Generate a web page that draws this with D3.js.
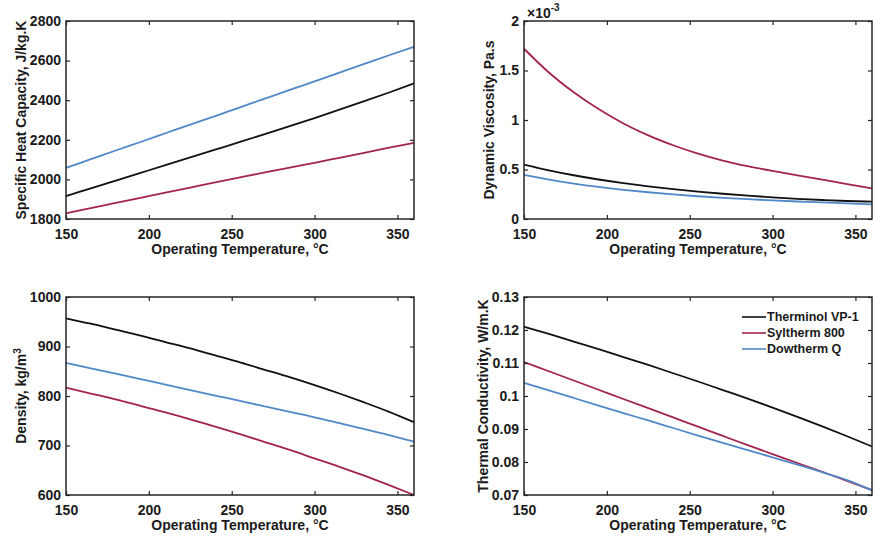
<!DOCTYPE html>
<html>
<head>
<meta charset="utf-8">
<script src="https://cdn.jsdelivr.net/npm/d3@7"></script>
<style>
  html, body { margin: 0; padding: 0; background: #fff; }
  svg { display: block; font-family: "Liberation Sans", Arial, sans-serif; font-weight: bold; }
</style>
</head>
<body>
<svg id="chart" width="873" height="540"></svg>
<script>
// Operating temperature grid, °C
const temps = [150, 165, 180, 195, 210, 225, 240, 255, 270, 285, 300, 315, 330, 345, 360];

// Fluids shown in every panel
const fluids = ["Therminol VP-1", "Syltherm 800", "Dowtherm Q"];
const fluidColors = ["#111111", "#a3234f", "#5088c8"];

// Specific heat capacity, J/kg.K
const cpVP1 = [1916, 1955, 1994, 2033, 2072, 2111, 2150, 2189, 2229, 2269, 2310, 2352, 2395, 2439, 2485];
const cpSyl = [1829, 1855, 1881, 1907, 1933, 1959, 1985, 2010, 2035, 2060, 2084, 2109, 2134, 2160, 2185];
const cpDow = [2058, 2102, 2146, 2189, 2233, 2277, 2320, 2364, 2408, 2452, 2495, 2539, 2583, 2627, 2670];

// Dynamic viscosity, x10^-3 Pa.s
const muVP1 = [0.550, 0.492, 0.442, 0.399, 0.362, 0.330, 0.302, 0.277, 0.255, 0.236, 0.219, 0.204, 0.192, 0.182, 0.175];
const muSyl = [1.720, 1.480, 1.280, 1.110, 0.965, 0.845, 0.745, 0.660, 0.590, 0.533, 0.485, 0.441, 0.397, 0.353, 0.310];
const muDow = [0.445, 0.398, 0.358, 0.324, 0.295, 0.270, 0.249, 0.230, 0.214, 0.200, 0.188, 0.177, 0.167, 0.157, 0.147];

// Density, kg/m3
const rhoVP1 = [957, 946, 934, 922, 909, 896, 882, 868, 853, 838, 822, 805, 787, 768, 747];
const rhoSyl = [817, 805, 793, 780, 767, 753, 738, 723, 707, 691, 674, 657, 639, 620, 600];
const rhoDow = [867, 856, 845, 834, 823, 812, 801, 790, 779, 768, 757, 745, 733, 721, 708];

// Thermal conductivity, W/m.K
const kVP1 = [0.1210, 0.1188, 0.1165, 0.1142, 0.1118, 0.1094, 0.1069, 0.1044, 0.1018, 0.0992, 0.0965, 0.0937, 0.0908, 0.0878, 0.0847];
const kSyl = [0.1103, 0.1075, 0.1047, 0.1019, 0.0991, 0.0963, 0.0935, 0.0907, 0.0879, 0.0851, 0.0824, 0.0797, 0.0770, 0.0743, 0.0715];
const kDow = [0.1040, 0.1017, 0.0994, 0.0971, 0.0948, 0.0926, 0.0903, 0.0880, 0.0858, 0.0836, 0.0814, 0.0792, 0.0769, 0.0745, 0.0714];

// Axis ticks
const xTicks = [150, 200, 250, 300, 350];
const cpTicks = [1800, 2000, 2200, 2400, 2600, 2800];
const muTicks = [0, 0.5, 1, 1.5, 2];
const rhoTicks = [600, 700, 800, 900, 1000];
const kTicks = [0.07, 0.08, 0.09, 0.1, 0.11, 0.12, 0.13];

const xLabel = "Operating Temperature, °C";

const panels = [
  { left: 66,  top: 21,  yDomain: [1800, 2800], yTicks: cpTicks,  yFmt: d => d,
    series: [cpVP1, cpSyl, cpDow], yLabelX: 26, yLabel: ["Specific Heat Capacity, J/kg.K"] },
  { left: 524, top: 21,  yDomain: [0, 2],       yTicks: muTicks,  yFmt: d => d,
    series: [muVP1, muSyl, muDow], yLabelX: 494, yLabel: ["Dynamic Viscosity, Pa.s"], exponent: true },
  { left: 66,  top: 297, yDomain: [600, 1000],  yTicks: rhoTicks, yFmt: d => d,
    series: [rhoVP1, rhoSyl, rhoDow], yLabelX: 26, yLabel: ["Density, kg/m", "3"] },
  { left: 524, top: 297, yDomain: [0.07, 0.13], yTicks: kTicks,   yFmt: d => +d.toFixed(2),
    series: [kVP1, kSyl, kDow], yLabelX: 488, yLabel: ["Thermal Conductivity, W/m.K"], legend: true }
];

const W = 348, H = 198;
const svg = d3.select("#chart");

panels.forEach(p => {
  const g = svg.append("g").attr("transform", `translate(${p.left},${p.top})`);
  const x = d3.scaleLinear().domain([150, 360]).range([0, W]);
  const y = d3.scaleLinear().domain(p.yDomain).range([H, 0]);

  const line = d3.line()
    .x((d, i) => x(temps[i]))
    .y(d => y(d))
    .curve(d3.curveMonotoneX);

  // data curves
  p.series.forEach((vals, si) => {
    g.append("path")
      .datum(vals)
      .attr("d", line)
      .attr("fill", "none")
      .attr("stroke", fluidColors[si])
      .attr("stroke-width", 1.8);
  });

  // axes with inward ticks on all four sides
  const styleAxis = sel => {
    sel.select(".domain").remove();
    sel.selectAll(".tick line").attr("stroke", "#262626").attr("stroke-width", 1.2);
    sel.selectAll("text").attr("fill", "#1a1a1a").style("font-size", "14px").style("font-weight", "bold")
      .style("font-family", "'Liberation Sans', Arial, sans-serif");
  };

  g.append("g").attr("transform", `translate(0,${H})`)
    .call(d3.axisBottom(x).tickValues(xTicks).tickSizeInner(-4).tickSizeOuter(0).tickPadding(10))
    .call(styleAxis);
  g.append("g")
    .call(d3.axisTop(x).tickValues(xTicks).tickSizeInner(-4).tickSizeOuter(0).tickFormat(""))
    .call(styleAxis);
  g.append("g")
    .call(d3.axisLeft(y).tickValues(p.yTicks).tickSizeInner(-4).tickSizeOuter(0).tickPadding(5).tickFormat(p.yFmt))
    .call(styleAxis)
    .call(sel => sel.selectAll("text").attr("dy", "0.3em"));
  g.append("g").attr("transform", `translate(${W},0)`)
    .call(d3.axisRight(y).tickValues(p.yTicks).tickSizeInner(-4).tickSizeOuter(0).tickFormat(""))
    .call(styleAxis);

  // box
  g.append("rect")
    .attr("x", 0).attr("y", 0).attr("width", W).attr("height", H)
    .attr("fill", "none").attr("stroke", "#262626").attr("stroke-width", 1.5);

  // x label
  g.append("text")
    .attr("x", W / 2).attr("y", H + 35)
    .attr("text-anchor", "middle")
    .attr("fill", "#1a1a1a")
    .style("font-size", "14px")
    .text(xLabel);

  // y label
  const yl = svg.append("text")
    .attr("transform", `translate(${p.yLabelX},${p.top + H / 2}) rotate(-90)`)
    .attr("text-anchor", "middle")
    .attr("fill", "#1a1a1a")
    .style("font-size", "14px");
  yl.append("tspan").text(p.yLabel[0]);
  if (p.yLabel[1]) {
    yl.append("tspan").attr("baseline-shift", "super").style("font-size", "10px").text(p.yLabel[1]);
  }

  // scale exponent for the viscosity axis
  if (p.exponent) {
    const ex = g.append("text")
      .attr("x", 3).attr("y", -3)
      .attr("fill", "#1a1a1a")
      .style("font-size", "14px");
    ex.append("tspan").text("×10");
    ex.append("tspan").attr("dy", -7).style("font-size", "10px").text("-3");
  }

  // legend
  if (p.legend) {
    const lg = g.append("g").attr("transform", `translate(218,20)`);
    fluids.forEach((name, i) => {
      const row = lg.append("g").attr("transform", `translate(0,${i * 16})`);
      row.append("line").attr("x1", 0).attr("x2", 24).attr("y1", 0).attr("y2", 0)
        .attr("stroke", fluidColors[i]).attr("stroke-width", 1.6);
      row.append("text").attr("x", 25).attr("y", 0).attr("dy", "0.35em")
        .attr("fill", "#1a1a1a")
        .style("font-size", "12.5px")
        .text(name);
    });
  }
});
</script>
</body>
</html>
